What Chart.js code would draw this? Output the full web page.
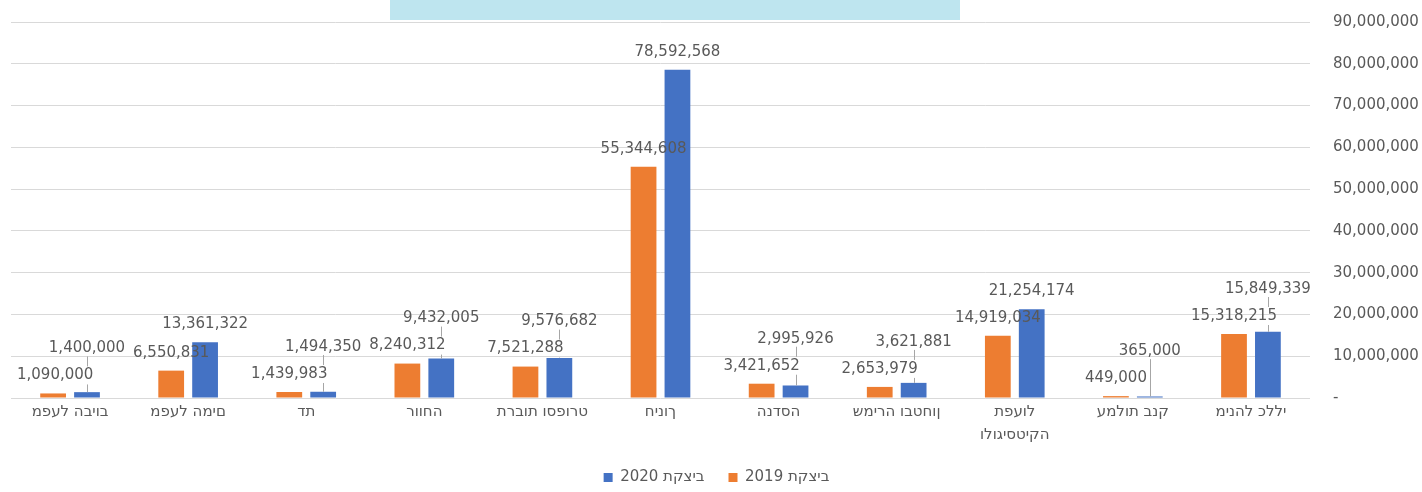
<!DOCTYPE html>
<html>
<head>
<meta charset="utf-8">
<script src="https://cdn.jsdelivr.net/npm/chart.js@4.4.1/dist/chart.umd.min.js"></script>
<style>
  html, body { margin: 0; padding: 0; background: #ffffff; }
  #wrap { position: relative; width: 1422px; height: 492px; }
  #titlebox { position: absolute; left: 390px; top: 0; width: 570px; height: 20px; background: #bee5ef; }
  canvas { position: absolute; left: 0; top: 0; }
</style>
</head>
<body>
<div id="wrap">
  <canvas id="c" width="1422" height="492"></canvas>
  <div id="titlebox"></div>
</div>
<script>
const categories = ['מפעל הביוב', 'מפעל המים', 'דת', 'רווחה', 'תרבות וספורט', 'חינוך', 'הנדסה', 'שמירה ובטחון', ['תפעול', 'ולוגיסטיקה'], 'עמלות בנק', 'מינהל כללי'];
const budget2019 = [1090000, 6550831, 1439983, 8240312, 7521288, 55344608, 3421652, 2653979, 14919034, 449000, 15318215];
const budget2020 = [1400000, 13361322, 1494350, 9432005, 9576682, 78592568, 2995926, 3621881, 21254174, 365000, 15849339];
const seriesNames = ['תקציב 2019', 'תקציב 2020'];
const yMax = 90000000;
const yStep = 10000000;

const FONT = '"DejaVu Sans", sans-serif';
const TEXT = '#595959';
const LRO = '\u202D', PDF = '\u202C', LRI = '\u2066', RLI = '\u2067', PDI = '\u2069';
const ltr = s => LRO + s + PDF;
const rtlWords = s => RLI + s.split(' ').map(w => /[\u0590-\u05FF]/.test(w) ? LRI + ltr(w) + PDI : w).join(' ') + PDI;

const fmt = v => v.toLocaleString('en-US');

const labelPlugin = {
  id: 'barLabels',
  afterDatasetsDraw(chart) {
    const ctx = chart.ctx;
    const area = chart.chartArea;
    const m0 = chart.getDatasetMeta(0);
    const m1 = chart.getDatasetMeta(1);
    const d0 = chart.data.datasets[0].data;
    const d1 = chart.data.datasets[1].data;
    ctx.save();
    ctx.font = '15px ' + FONT;
    ctx.textBaseline = 'middle';
    ctx.textAlign = 'center';
    const half = 8;
    for (let i = 0; i < d0.length; i++) {
      const b0 = m0.data[i], b1 = m1.data[i];
      const t0 = fmt(d0[i]), t1 = fmt(d1[i]);
      const w0 = ctx.measureText(t0).width;
      const x0 = Math.max(b0.x, area.left + 6 + w0 / 2);
      const y0 = b0.y - 18;
      const x1 = b1.x;
      const y1 = Math.min(b1.y - 18, y0 - 27);
      if ((b1.y - 18) - y1 > 8) {
        ctx.strokeStyle = '#a6a6a6';
        ctx.lineWidth = 1;
        const lx = Math.round(x1) + 0.5;
        const top = y1 + half;
        const bot = b1.y;
        const oL = x0 - w0 / 2, oR = x0 + w0 / 2, oT = y0 - half, oB = y0 + half;
        ctx.beginPath();
        if (lx >= oL && lx <= oR && oT < bot && oB > top) {
          if (oT - 1 > top) { ctx.moveTo(lx, top); ctx.lineTo(lx, oT - 1); }
          if (bot > oB + 1) { ctx.moveTo(lx, oB + 1); ctx.lineTo(lx, bot); }
        } else {
          ctx.moveTo(lx, top); ctx.lineTo(lx, bot);
        }
        ctx.stroke();
      }
      ctx.fillStyle = TEXT;
      ctx.fillText(t0, x0, y0);
      ctx.fillText(t1, x1, y1);
    }
    ctx.restore();
  }
};

new Chart(document.getElementById('c'), {
  type: 'bar',
  data: {
    labels: categories,
    datasets: [
      { label: seriesNames[0], data: budget2019, backgroundColor: '#ED7D31', categoryPercentage: 0.574, barPercentage: 0.76 },
      { label: seriesNames[1], data: budget2020, backgroundColor: '#4472C4', categoryPercentage: 0.574, barPercentage: 0.76 }
    ]
  },
  options: {
    responsive: false,
    animation: false,
    devicePixelRatio: 1,
    layout: { padding: { top: 22, right: 0, left: 11, bottom: -3 } },
    plugins: {
      legend: {
        position: 'bottom',
        reverse: true,
        labels: {
          boxWidth: 9, boxHeight: 9, padding: 24, color: TEXT,
          font: { family: FONT, size: 15 },
          generateLabels: chart => Chart.defaults.plugins.legend.labels.generateLabels(chart)
            .map(it => Object.assign(it, { text: rtlWords(it.text) }))
        }
      },
      tooltip: { enabled: false },
      title: { display: false }
    },
    scales: {
      x: {
        grid: { display: false, drawTicks: false },
        border: { display: false },
        afterFit: s => { s.height = 48; },
        ticks: {
          color: TEXT, padding: 3, font: { family: FONT, size: 15, lineHeight: 1.53 }, maxRotation: 0, autoSkip: false,
          callback: (v, i) => Array.isArray(categories[i]) ? categories[i].map(ltr) : ltr(categories[i])
        }
      },
      y: {
        position: 'right',
        min: 0, max: yMax,
        grid: { color: '#d9d9d9', drawTicks: true, tickLength: 23, tickColor: 'rgba(0,0,0,0)' },
        border: { display: false },
        afterFit: s => { s.width = 112; },
        ticks: {
          stepSize: yStep, padding: 0, color: TEXT,
          font: { family: FONT, size: 15 },
          callback: v => v === 0 ? '-' : fmt(v)
        }
      }
    }
  },
  plugins: [labelPlugin]
});
</script>
</body>
</html>
